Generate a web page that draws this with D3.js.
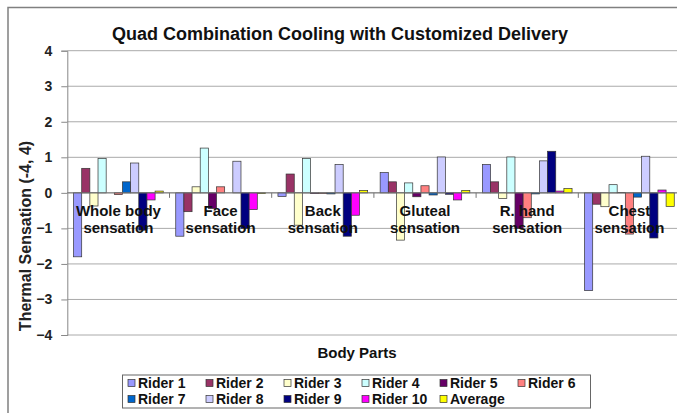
<!DOCTYPE html>
<html>
<head>
<meta charset="utf-8">
<script src="https://cdn.jsdelivr.net/npm/d3@7"></script>
<style>
  html, body { margin: 0; padding: 0; background: #fff; }
  svg { display: block; font-family: "Liberation Sans", Arial, sans-serif; }
</style>
</head>
<body>
<svg id="chart" width="677" height="413"></svg>
<script>
// ---- data ----
const categories = [["Whole body", "sensation"], ["Face", "sensation"], ["Back", "sensation"],
                    ["Gluteal", "sensation"], ["R. hand", "sensation"], ["Chest", "sensation"]];
const seriesNames = ["Rider 1", "Rider 2", "Rider 3", "Rider 4", "Rider 5", "Rider 6",
                     "Rider 7", "Rider 8", "Rider 9", "Rider 10", "Average"];
const rider1  = [-1.80, -1.22, -0.10,  0.57,  0.80, -2.75];
const rider2  = [ 0.69, -0.53,  0.53,  0.31,  0.31, -0.32];
const rider3  = [-0.37,  0.17, -0.91, -1.33, -0.16, -0.39];
const rider4  = [ 0.97,  1.26,  0.97,  0.28,  1.01,  0.23];
const rider5  = [ 0.00, -0.44, -0.02, -0.11, -1.00,  0.01];
const rider6  = [-0.05,  0.17, -0.02,  0.20, -0.70, -1.16];
const rider7  = [ 0.31,  0.00, -0.03, -0.06, -0.03, -0.12];
const rider8  = [ 0.84,  0.89,  0.80,  1.01,  0.90,  1.03];
const rider9  = [-1.05, -1.00, -1.22, -0.04,  1.17, -1.27];
const rider10 = [-0.20, -0.47, -0.63, -0.20,  0.05,  0.08];
const average = [ 0.05, -0.02,  0.07,  0.07,  0.12, -0.38];
const yTicks = [-4, -3, -2, -1, 0, 1, 2, 3, 4];
const colors = ["#9999FF", "#993366", "#FFFFCC", "#CCFFFF", "#660066", "#FF8080",
                "#0066CC", "#CCCCFF", "#000080", "#FF00FF", "#FFFF00"];
const seriesValues = [rider1, rider2, rider3, rider4, rider5, rider6, rider7, rider8, rider9, rider10, average];

// ---- layout ----
const svg = d3.select("#chart");
const plotLeft = 67.3, plotRight = 680.5, plotTop = 50.7, plotBottom = 335;
const catKeys = categories.map(c => c.join(" "));
const x0 = d3.scaleBand().domain(catKeys).range([plotLeft, plotRight]);
const groupPad = 6.25;
const x1 = d3.scaleBand().domain(seriesNames).range([groupPad, x0.bandwidth() - groupPad]);
const y = d3.scaleLinear().domain([-4, 4]).range([plotBottom, plotTop]);

// chart border
svg.append("rect").attr("x", 8).attr("y", 7.5).attr("width", 700).attr("height", 420)
  .attr("fill", "none").attr("stroke", "#808080").attr("stroke-width", 1.5);

// gridlines
svg.append("g").selectAll("line").data(yTicks).join("line")
  .attr("x1", plotLeft).attr("x2", plotRight)
  .attr("y1", d => y(d)).attr("y2", d => y(d))
  .attr("stroke", "#aaaaaa").attr("stroke-width", 1);

// y axis
const yAxis = d3.axisLeft(y).tickValues(yTicks).tickSize(6).tickPadding(9).tickFormat(d3.format("d"));
const gy = svg.append("g").attr("transform", `translate(${plotLeft},0)`).call(yAxis);
gy.select(".domain").attr("stroke", "#888");
gy.selectAll(".tick line").attr("stroke", "#888");
gy.selectAll(".tick text").attr("font-size", 14).attr("font-weight", "bold").attr("fill", "#222")
  .attr("font-family", "'Liberation Sans', Arial, sans-serif");

// bars
const groups = svg.append("g").selectAll("g").data(catKeys).join("g")
  .attr("transform", d => `translate(${x0(d)},0)`);
groups.selectAll("rect")
  .data((d, i) => seriesNames.map((s, j) => ({ s, j, v: seriesValues[j][i] })))
  .join("rect")
  .attr("x", d => x1(d.s))
  .attr("width", x1.bandwidth())
  .attr("y", d => y(Math.max(0, d.v)))
  .attr("height", d => Math.abs(y(d.v) - y(0)))
  .attr("fill", d => colors[d.j])
  .attr("stroke", "#333").attr("stroke-width", 0.7);

// zero (category) axis
svg.append("line").attr("x1", plotLeft).attr("x2", plotRight)
  .attr("y1", y(0)).attr("y2", y(0)).attr("stroke", "#777").attr("stroke-width", 1);
svg.append("g").selectAll("line").data(catKeys.slice(1)).join("line")
  .attr("x1", d => x0(d)).attr("x2", d => x0(d))
  .attr("y1", y(0)).attr("y2", y(0) + 5).attr("stroke", "#777");

// category labels
const labels = svg.append("g").selectAll("text").data(categories).join("text")
  .attr("x", (d, i) => x0(catKeys[i]) + x0.bandwidth() / 2)
  .attr("y", y(0) + 23.5)
  .attr("text-anchor", "middle").attr("font-size", 15).attr("font-weight", "bold").attr("fill", "#111");
labels.selectAll("tspan").data(d => d).join("tspan")
  .attr("x", function () { return this.parentNode.getAttribute("x"); })
  .attr("dy", (d, i) => i === 0 ? 0 : 16.7)
  .text(d => d);

// title
svg.append("text").attr("x", 340).attr("y", 40).attr("text-anchor", "middle")
  .attr("font-size", 18).attr("font-weight", "bold").attr("fill", "#111")
  .text("Quad Combination Cooling with Customized Delivery");

// axis titles
svg.append("text").attr("transform", "translate(31,236) rotate(-90)").attr("text-anchor", "middle")
  .attr("font-size", 16).attr("font-weight", "bold").attr("fill", "#222")
  .text("Thermal Sensation (-4, 4)");
svg.append("text").attr("x", 357).attr("y", 358).attr("text-anchor", "middle")
  .attr("font-size", 15).attr("font-weight", "bold").attr("fill", "#111")
  .text("Body Parts");

// legend
const legend = svg.append("g");
legend.append("rect").attr("x", 122.5).attr("y", 375).attr("width", 468).attr("height", 33)
  .attr("fill", "#fff").attr("stroke", "#666").attr("stroke-width", 1);
const items = legend.selectAll("g").data(seriesNames).join("g")
  .attr("transform", (d, i) => `translate(${128 + (i % 6) * 78},${i < 6 ? 383 : 399})`);
items.append("rect").attr("x", 0).attr("y", -3.5).attr("width", 7).attr("height", 7)
  .attr("fill", (d, i) => colors[i]).attr("stroke", "#333").attr("stroke-width", 0.7);
items.append("text").attr("x", 10).attr("y", 5).attr("font-size", 14).attr("font-weight", "bold")
  .attr("fill", "#111").text(d => d);
</script>
</body>
</html>
